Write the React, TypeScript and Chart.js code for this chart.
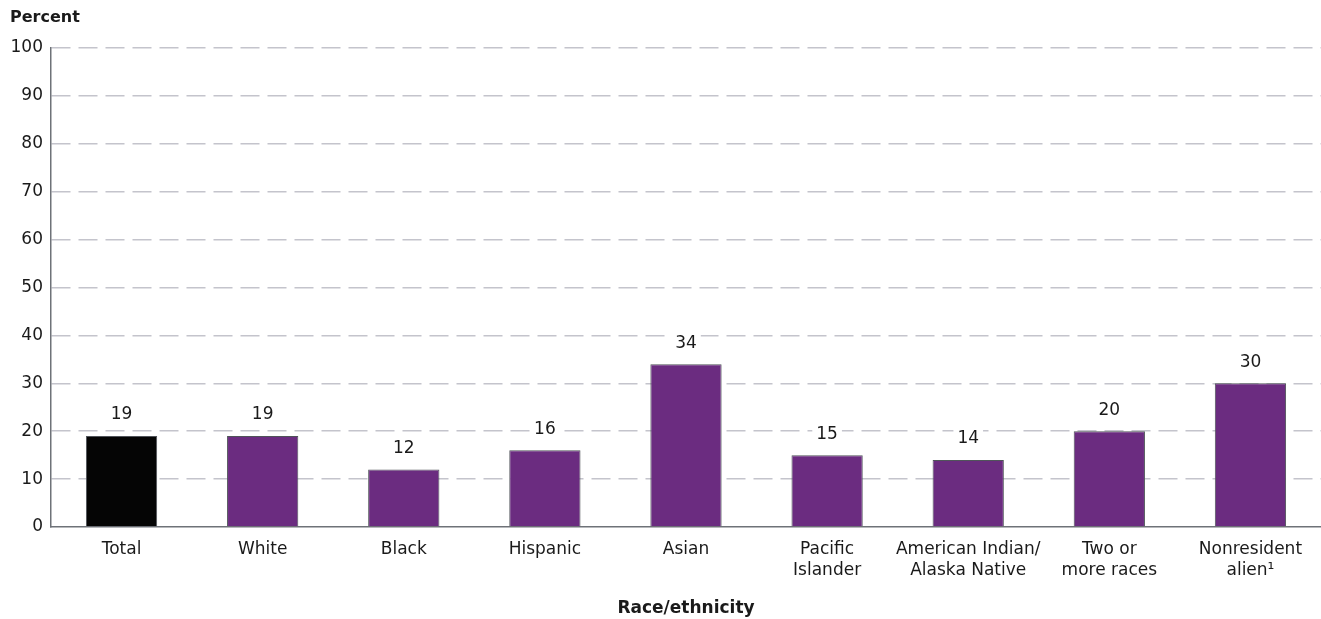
import React, { useEffect, useRef } from "react";
import { Chart, registerables } from "chart.js";

Chart.register(...registerables);

const categories: (string | string[])[] = [
  "Total",
  "White",
  "Black",
  "Hispanic",
  "Asian",
  ["Pacific", "Islander"],
  ["American Indian/", "Alaska Native"],
  ["Two or", "more races"],
  ["Nonresident", "alien\u00B9"],
];
const values: number[] = [19, 19, 12, 16, 34, 15, 14, 20, 30];
const barColors: string[] = ["#050505", "#6b2c80", "#6b2c80", "#6b2c80", "#6b2c80", "#6b2c80", "#6b2c80", "#6b2c80", "#6b2c80"];
const yTicks: number[] = [0, 10, 20, 30, 40, 50, 60, 70, 80, 90, 100];

const FONT = "'DejaVu Sans', 'Noto Sans', sans-serif";

const labelPlugin = {
  id: "valueLabels",
  afterDatasetsDraw(chart: any) {
    const ctx = chart.ctx;
    const meta = chart.getDatasetMeta(0);
    ctx.save();
    ctx.font = `17px ${FONT}`;
    ctx.textAlign = "center";
    ctx.textBaseline = "middle";
    meta.data.forEach((bar: any, i: number) => {
      const txt = String(values[i]);
      const y = bar.y - 21;
      const w = ctx.measureText(txt).width + 8;
      ctx.fillStyle = "#ffffff";
      ctx.fillRect(bar.x - w / 2, y - 10, w, 20);
      ctx.fillStyle = "#1a1a1a";
      ctx.fillText(txt, bar.x, y);
    });
    ctx.font = `bold 16px ${FONT}`;
    ctx.textAlign = "left";
    ctx.textBaseline = "middle";
    ctx.fillStyle = "#1a1a1a";
    ctx.fillText("Percent", 10, 18);
    ctx.restore();
  },
};

export default function App() {
  const ref = useRef<HTMLCanvasElement | null>(null);
  useEffect(() => {
    if (!ref.current) return;
    const chart = new Chart(ref.current, {
      type: "bar",
      data: {
        labels: categories,
        datasets: [
          {
            data: values,
            backgroundColor: barColors,
            borderColor: "#50545a",
            borderWidth: 1,
            barPercentage: 0.505,
            categoryPercentage: 1,
          },
        ],
      },
      options: {
        animation: false,
        responsive: false,
        maintainAspectRatio: false,
        layout: { padding: { top: 48, right: 0, left: 0, bottom: 0 } },
        plugins: {
          legend: { display: false },
          tooltip: { enabled: false },
        },
        scales: {
          x: {
            afterFit: (scale: any) => {
              scale.height = 92;
            },
            grid: { display: false, drawTicks: false },
            border: { color: "#6e7278", width: 1.5 },
            ticks: {
              color: "#1a1a1a",
              font: { family: FONT, size: 17, lineHeight: 1.25 },
              padding: 12,
              maxRotation: 0,
              autoSkip: false,
            },
            title: {
              display: true,
              text: "Race/ethnicity",
              color: "#1a1a1a",
              font: { family: FONT, size: 17, weight: "bold" },
              padding: { top: 10, bottom: 0 },
            },
          },
          y: {
            min: 0,
            max: 100,
            afterFit: (scale: any) => {
              scale.width = 51;
            },
            afterBuildTicks: (scale: any) => {
              scale.ticks = yTicks.map((v) => ({ value: v }));
            },
            grid: {
              color: (c: any) => (c.tick && c.tick.value === 0 ? "rgba(0,0,0,0)" : "#c4c4cc"),
              lineWidth: 1.5,
              drawTicks: false,
            },
            border: { color: "#6e7278", width: 1.5, dash: [19, 8] as any },
            ticks: {
              color: "#1a1a1a",
              font: { family: FONT, size: 17 },
              padding: 8,
              stepSize: 10,
            },
          },
        },
      },
      plugins: [labelPlugin],
    });
    return () => chart.destroy();
  }, []);
  return (
    <div style={{ position: "fixed", left: 0, top: 0, width: 1321, height: 619, background: "#fff" }}>
      <canvas ref={ref} width={1321} height={619} style={{ width: 1321, height: 619 }} />
    </div>
  );
}
